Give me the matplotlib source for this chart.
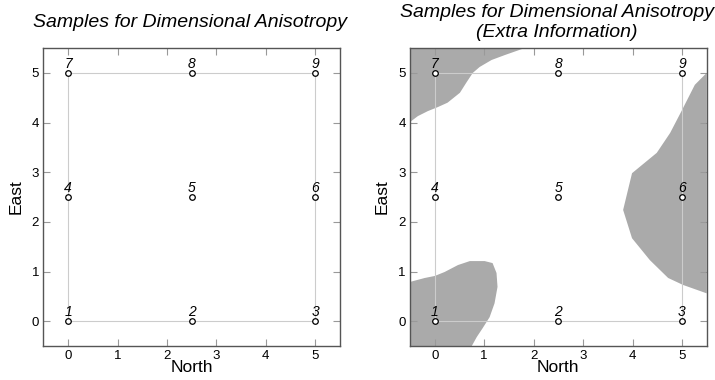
import matplotlib
matplotlib.use("Agg")
import matplotlib.pyplot as plt
import numpy as np

plt.rcParams['font.family'] = ['Liberation Sans', 'DejaVu Sans']

# sample grid (North, East) and sample ids
north = [0, 2.5, 5, 0, 2.5, 5, 0, 2.5, 5]
east = [0, 0, 0, 2.5, 2.5, 2.5, 5, 5, 5]
sample_ids = ['1', '2', '3', '4', '5', '6', '7', '8', '9']

xticks = [0, 1, 2, 3, 4, 5]
yticks = [0, 1, 2, 3, 4, 5]

# shaded regions of the extra-information panel (North, East outlines)
region_nw_x = [-0.5, -0.5, -0.34, -0.14, 0.06, 0.26, 0.51, 0.65, 0.77, 0.91, 1.15, 1.42, 1.82]
region_nw_y = [5.5, 4.01, 4.13, 4.23, 4.31, 4.4, 4.6, 4.82, 5.0, 5.12, 5.26, 5.36, 5.5]

region_sw_x = [-0.5, -0.5, -0.2, 0.0, 0.2, 0.47, 0.71, 1.01, 1.17, 1.25, 1.27, 1.21, 1.11, 0.97, 0.85, 0.75]
region_sw_y = [-0.5, 0.79, 0.87, 0.91, 0.99, 1.13, 1.21, 1.21, 1.17, 0.97, 0.69, 0.36, 0.08, -0.14, -0.32, -0.5]

region_e_x = [5.5, 5.5, 5.26, 5.0, 4.76, 4.49, 3.99, 3.81, 3.99, 4.35, 4.72, 5.02, 5.5]
region_e_y = [0.56, 5.0, 4.76, 4.25, 3.79, 3.39, 2.98, 2.24, 1.67, 1.23, 0.87, 0.73, 0.56]

fig = plt.figure(figsize=(7.15, 3.8), dpi=100)
ax1 = fig.add_axes([0.0606, 0.0895, 0.415, 0.784])
ax2 = fig.add_axes([0.5734, 0.0895, 0.415, 0.784])


def style_panel(ax):
    ax.set_xlim(-0.5, 5.5)
    ax.set_ylim(-0.5, 5.5)
    ax.set_xticks(xticks)
    ax.set_yticks(yticks)
    ax.tick_params(direction='in', length=5, width=0.8, color='#999999',
                   labelsize=9.5, pad=3, top=True, right=True)
    for s in ax.spines.values():
        s.set_color('#555555')
        s.set_linewidth(1.0)
    # light frame around the sampled area
    ax.plot([0, 5, 5, 0, 0], [0, 0, 5, 5, 0], color='#cccccc', lw=0.8, zorder=2)
    ax.scatter(north, east, s=16, facecolor='white', edgecolor='black',
               linewidth=0.9, zorder=4)
    for x, y, t in zip(north, east, sample_ids):
        ax.annotate(t, (x, y), xytext=(0, 1.5), textcoords='offset points',
                    ha='center', va='bottom', fontsize=10, style='italic', zorder=5)
    ax.set_xlabel('North', fontsize=12.5, labelpad=-1.5)
    ax.set_ylabel('East', fontsize=12.5, labelpad=6)


for rx, ry in [(region_nw_x, region_nw_y), (region_sw_x, region_sw_y), (region_e_x, region_e_y)]:
    ax2.fill(rx, ry, color='#aaaaaa', lw=0, zorder=1)

style_panel(ax1)
style_panel(ax2)

fig.text(0.2655, 0.942, 'Samples for Dimensional Anisotropy', ha='center', va='center',
         fontsize=14, style='italic')
fig.text(0.779, 0.968, 'Samples for Dimensional Anisotropy', ha='center', va='center',
         fontsize=14, style='italic')
fig.text(0.779, 0.915, '(Extra Information)', ha='center', va='center',
         fontsize=14, style='italic')

fig.savefig('out.png', dpi=100)
